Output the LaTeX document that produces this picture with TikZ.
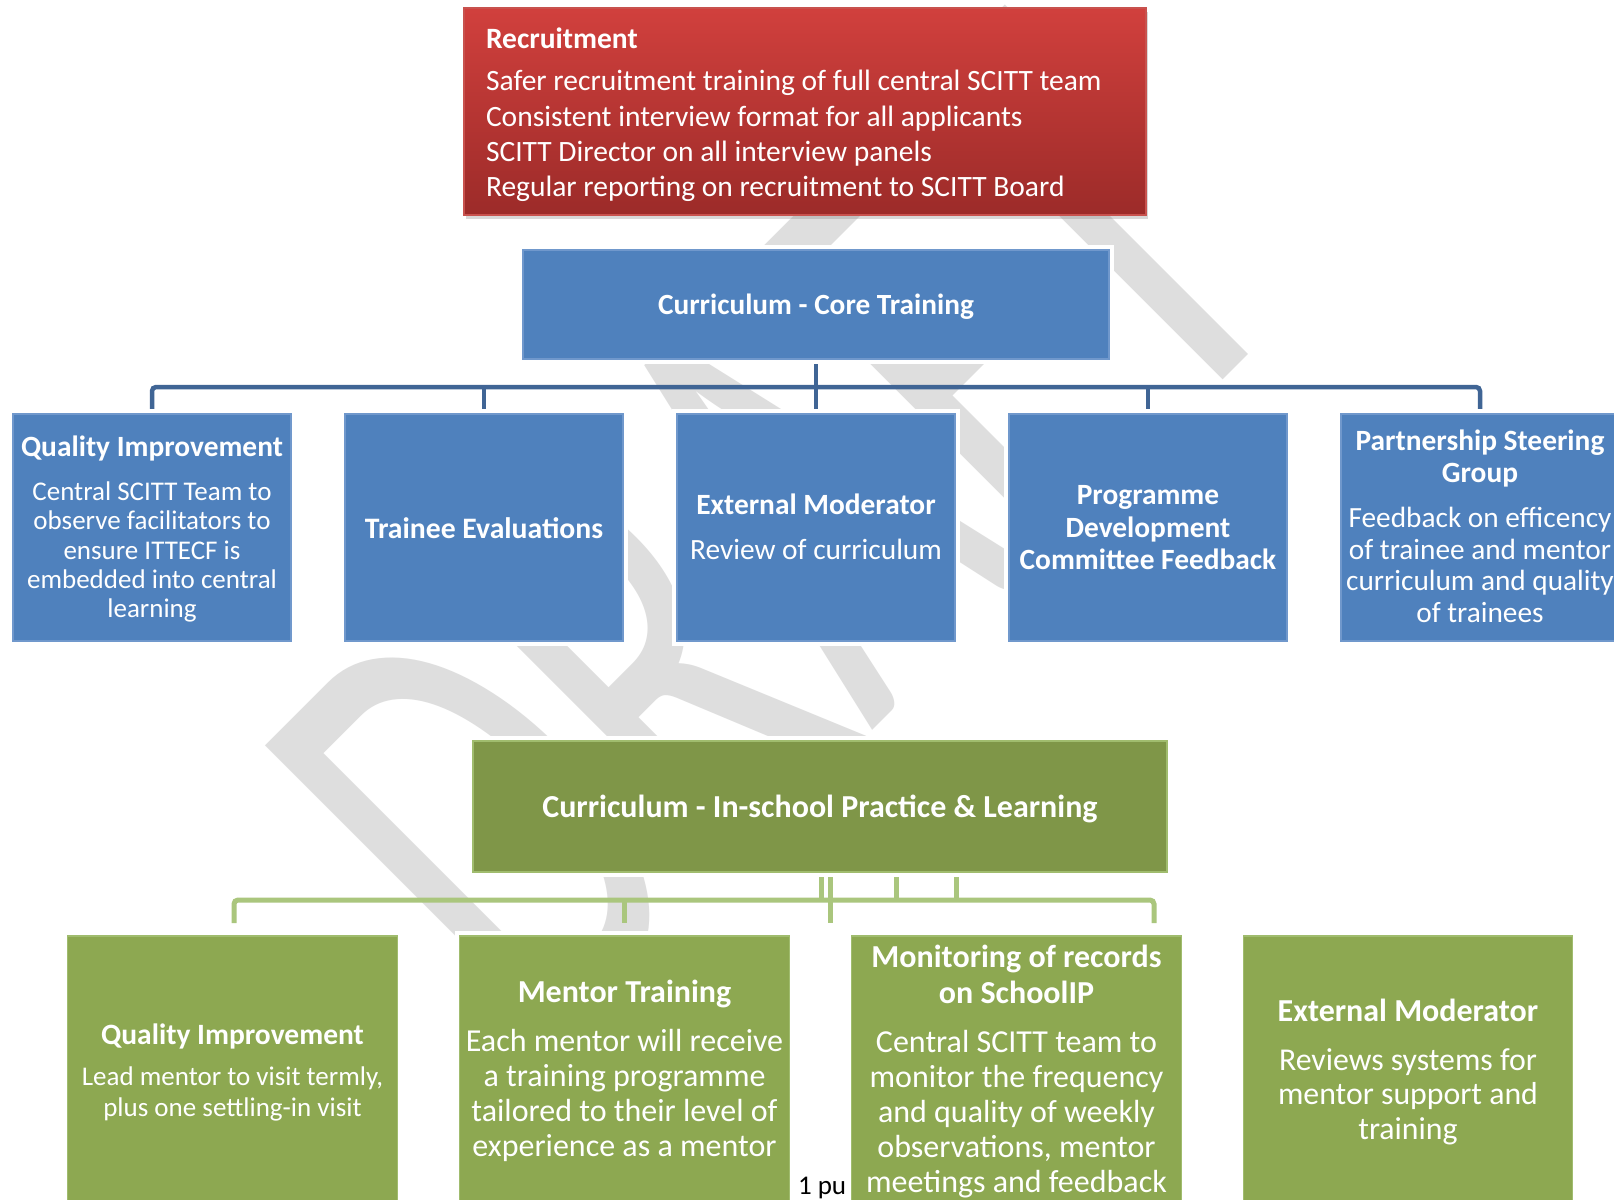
\documentclass[tikz,border=0pt]{standalone}
\usepackage{fontspec}
\setmainfont{Carlito}
\usetikzlibrary{shadows,calc}
\definecolor{wmgray}{RGB}{222,222,222}
\definecolor{redtop}{RGB}{209,64,61}
\definecolor{redbot}{RGB}{156,43,41}
\definecolor{redline}{RGB}{200,82,78}
\definecolor{bluefill}{RGB}{79,129,189}
\definecolor{blueline}{RGB}{112,152,204}
\definecolor{blueconn}{RGB}{64,101,149}
\definecolor{gtopfill}{RGB}{127,150,72}
\definecolor{gchildfill}{RGB}{141,168,81}
\definecolor{gline}{RGB}{160,188,110}
\definecolor{gconncol}{RGB}{170,198,125}
\pgfdeclarelayer{wm}
\pgfdeclarelayer{bg}
\pgfsetlayers{wm,bg,main}
\newcommand\fB[1]{\fontsize{#1}{#1}\selectfont\bfseries}
\newcommand\fR[1]{\fontsize{#1}{#1}\selectfont}
\newcommand\tline[4]{\node[txt,font=#3] (#1) at (#2) {#4};}
\begin{document}
\begin{tikzpicture}[x=0.5pt,y=-0.5pt,
  halo/.style={preaction={draw=white,line width=5pt}},
  redbox/.style={draw=redline,line width=0.75pt,top color=redtop,bottom color=redbot,
    inner sep=0,outer sep=0,drop shadow={opacity=0.3,shadow xshift=1pt,shadow yshift=-2pt}},
  bbox/.style={draw=blueline,line width=0.6pt,fill=bluefill,inner sep=0,outer sep=0,halo},
  gtopbox/.style={draw=gline,line width=0.6pt,fill=gtopfill,inner sep=0,outer sep=0,halo},
  gbox/.style={draw=gline,line width=0.6pt,fill=gchildfill,inner sep=0,outer sep=0,halo},
  txt/.style={anchor=base,inner sep=0,outer sep=0,text=white},
  bconn/.style={draw=blueconn,line width=2.25pt},
  gconnst/.style={draw=gconncol,line width=2.5pt}]
\useasboundingbox (0,0) rectangle (1614,1200);

% watermark
\begin{pgfonlayer}{wm}
\fill[white] (0,0) rectangle (1614,1200);
\node[anchor=base west,inner sep=0,outer sep=0,text=wmgray,
  font=\fontsize{201pt}{201pt}\selectfont,rotate=45,yscale=1.625,transform shape] (wmark) at (542,1061) {DRAFT};
\end{pgfonlayer}

% boxes
\node[redbox,minimum width=341pt,minimum height=103.5pt] (rec) at (805,111.5) {};
\node[bbox,minimum width=293pt,minimum height=54.5pt] (ct) at (816,304.5) {};
\foreach \i/\x in {1/152,2/484,3/816,4/1148,5/1480}
  \node[bbox,minimum width=139pt,minimum height=113.5pt] (b\i) at (\x,527.5) {};
\node[gtopbox,minimum width=347pt,minimum height=65.5pt] (gt) at (820,806.5) {};
\foreach \i/\x in {1/232.5,2/624.5,3/1016.5,4/1408}
  \node[gbox,minimum width=164.75pt,minimum height=139.5pt] (g\i) at (\x,1075.5) {};

% connectors
\begin{pgfonlayer}{bg}
\coordinate (bbar) at (0,387);
\draw[bconn] (ct.south) -- (ct.south |- bbar);
\draw[bconn,rounded corners=2pt] (b1.north) -- (b1.north |- bbar) -- (b5.north |- bbar) -- (b5.north);
\foreach \i in {2,3,4} \draw[bconn] (b\i.north |- bbar) -- (b\i.north);
\coordinate (gbar) at (0,900);
\coordinate (gd1) at (234,923);
\coordinate (gd2) at (624.5,923);
\coordinate (gd3) at (830,923);
\coordinate (gd4) at (1154,923);
\draw[gconnst,rounded corners=2pt] (gd1) -- (gd1 |- gbar) -- (gd4 |- gbar) -- (gd4);
\draw[gconnst] (gd2 |- gbar) -- (gd2);
\draw[gconnst] (gd3 |- gbar) -- (gd3);
\coordinate (s1) at ($(gt.south)+(1,0)$);
\coordinate (s2) at ($(gt.south)+(10,0)$);
\coordinate (s3) at ($(gt.south)+(76,0)$);
\coordinate (s4) at ($(gt.south)+(136,0)$);
\foreach \s in {s1,s2,s3,s4} \draw[gconnst] (\s) -- (\s |- gbar);
\end{pgfonlayer}

% red box text
\begin{scope}[txt/.append style={anchor=base west}]
\tline{r0}{486,48}{\fB{14.75pt}}{Recruitment}
\tline{r1}{486,90.5}{\fR{14.75pt}}{Safer recruitment training of full central SCITT team}
\tline{r2}{486,126.5}{\fR{14.75pt}}{Consistent interview format for all applicants}
\tline{r3}{486,161.5}{\fR{14.75pt}}{SCITT Director on all interview panels}
\tline{r4}{486,196.5}{\fR{14.75pt}}{Regular reporting on recruitment to SCITT Board}
\end{scope}

% blue texts
\tline{ctt}{816,314.5}{\fB{14.65pt}}{Curriculum - Core Training}
\tline{b1a}{152,456.5}{\fB{14.7pt}}{Quality Improvement}
\tline{b1b}{152,500.5}{\fR{13.5pt}}{Central SCITT Team to}
\tline{b1c}{152,529.8}{\fR{13.5pt}}{observe facilitators to}
\tline{b1d}{152,559}{\fR{13.5pt}}{ensure ITTECF is}
\tline{b1e}{152,588.3}{\fR{13.5pt}}{embedded into central}
\tline{b1f}{152,617.5}{\fR{13.5pt}}{learning}
\tline{b2a}{484,538}{\fB{14.85pt}}{Trainee Evaluations}
\tline{b3a}{816,514.3}{\fB{14.7pt}}{External Moderator}
\tline{b3b}{816,559.3}{\fR{14.7pt}}{Review of curriculum}
\tline{b4a}{1148,504.5}{\fB{14.7pt}}{Programme}
\tline{b4b}{1148,537}{\fB{14.7pt}}{Development}
\tline{b4c}{1148,569.5}{\fB{14.7pt}}{Committee Feedback}
\tline{b5a}{1480,450.7}{\fB{14.7pt}}{Partnership Steering}
\tline{b5b}{1480,482}{\fB{14.7pt}}{Group}
\tline{b5c}{1480,527.5}{\fR{14.65pt}}{Feedback on efficency}
\tline{b5d}{1480,559.2}{\fR{14.65pt}}{of trainee and mentor}
\tline{b5e}{1480,590.9}{\fR{14.65pt}}{curriculum and quality}
\tline{b5f}{1480,622.6}{\fR{14.65pt}}{of trainees}

% green texts
\tline{gtt}{820,817}{\fB{16pt}}{Curriculum - In-school Practice \& Learning}
\tline{g1a}{232.5,1044.5}{\fB{14.75pt}}{Quality Improvement}
\tline{g1b}{232.5,1085}{\fR{13.5pt}}{Lead mentor to visit termly,}
\tline{g1c}{232.5,1116.5}{\fR{13.5pt}}{plus one settling-in visit}
\tline{g2a}{624.5,1002.5}{\fB{16pt}}{Mentor Training}
\tline{g2b}{624.5,1051.5}{\fR{16pt}}{Each mentor will receive}
\tline{g2c}{624.5,1086.5}{\fR{16pt}}{a training programme}
\tline{g2d}{624.5,1121.5}{\fR{16pt}}{tailored to their level of}
\tline{g2e}{624.5,1156.5}{\fR{16pt}}{experience as a mentor}
\tline{g3a}{1016.5,967.5}{\fB{16pt}}{Monitoring of records}
\tline{g3b}{1016.5,1003}{\fB{16pt}}{on SchoolIP}
\tline{g3c}{1016.5,1052}{\fR{16pt}}{Central SCITT team to}
\tline{g3d}{1016.5,1087}{\fR{16pt}}{monitor the frequency}
\tline{g3e}{1016.5,1122}{\fR{16pt}}{and quality of weekly}
\tline{g3f}{1016.5,1157}{\fR{16pt}}{observations, mentor}
\tline{g3g}{1016.5,1192}{\fR{16pt}}{meetings and feedback}
\tline{g4a}{1408,1021.3}{\fB{16pt}}{External Moderator}
\tline{g4b}{1408,1070}{\fR{15.9pt}}{Reviews systems for}
\tline{g4c}{1408,1104.5}{\fR{15.9pt}}{mentor support and}
\tline{g4d}{1408,1139.5}{\fR{15.9pt}}{training}

\node[anchor=base west,inner sep=0,outer sep=0,text=black,font=\fR{13.5pt}] (pg) at (798,1194) {1 pu};
\end{tikzpicture}
\end{document}
